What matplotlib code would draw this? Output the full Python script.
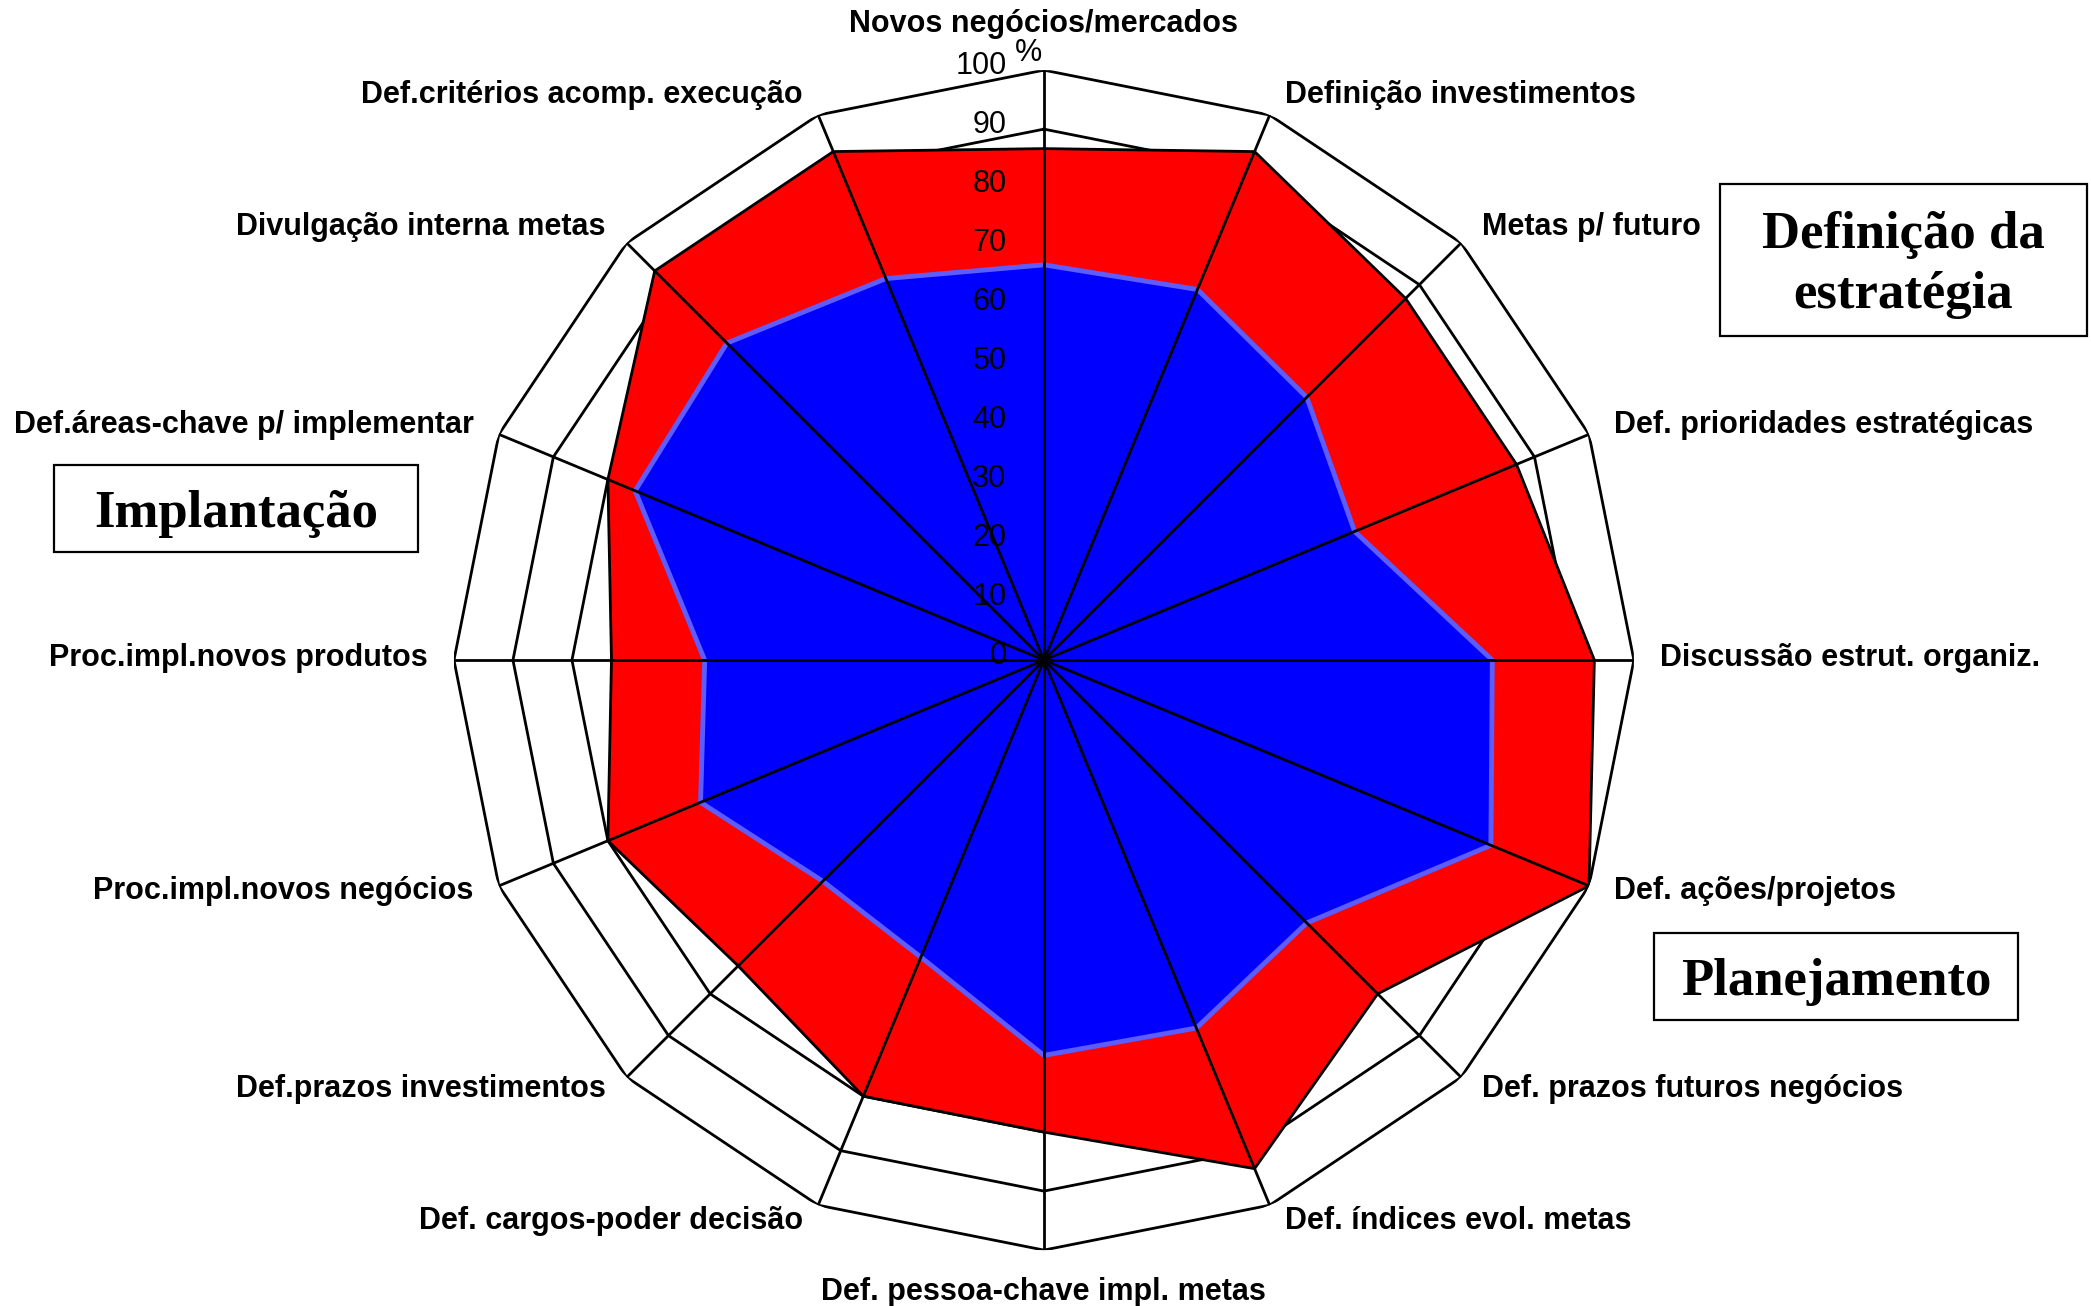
import numpy as np
import matplotlib.pyplot as plt
from matplotlib.patches import Rectangle

plt.rcParams['font.family'] = ['Liberation Sans', 'DejaVu Sans']

# data (percent)
categories = [
    "Novos negócios/mercados",
    "Definição investimentos",
    "Metas p/ futuro",
    "Def. prioridades estratégicas",
    "Discussão estrut. organiz.",
    "Def. ações/projetos",
    "Def. prazos futuros negócios",
    "Def. índices evol. metas",
    "Def. pessoa-chave impl. metas",
    "Def. cargos-poder decisão",
    "Def.prazos investimentos",
    "Proc.impl.novos negócios",
    "Proc.impl.novos produtos",
    "Def.áreas-chave p/ implementar",
    "Divulgação interna metas",
    "Def.critérios acomp. execução",
]
red_values = [86.7, 93.3, 86.7, 86.7, 93.3, 100, 80, 93.3,
              80, 80, 73.3, 80, 73.3, 80, 93.3, 93.3]
blue_values = [67, 68, 63, 57, 76, 82, 63, 67.5,
               67, 54.5, 53, 63, 57.5, 75, 76, 70]
r_ticks = [0, 10, 20, 30, 40, 50, 60, 70, 80, 90, 100]
group_labels = ["Definição da\nestratégia", "Implantação", "Planejamento"]

n = len(categories)
theta = np.linspace(0, 2 * np.pi, n, endpoint=False)
closed = np.append(theta, theta[0])


def close(vals):
    return np.append(vals, vals[0])


fig = plt.figure(figsize=(20.91, 13.06), dpi=100)
ax = fig.add_axes([0.2171, 0.0428, 0.5643, 0.9035], projection='polar')
ax.set_theta_zero_location('N')
ax.set_theta_direction(-1)
ax.set_ylim(0, 100)
ax.set_axis_off()

lw = 2.0
for level in r_ticks[1:]:
    ax.plot(closed, [level] * (n + 1), color='black', lw=lw, zorder=1)

ax.fill(closed, close(red_values), facecolor='#ff0000', edgecolor='black',
        lw=lw, zorder=2)
ax.fill(closed, close(blue_values), facecolor='#0000ff', edgecolor='#5c5cff',
        lw=3.5, zorder=3)

for t in theta:
    ax.plot([t, t], [0, 100], color='black', lw=lw, zorder=4)

# radial scale labels
for v in r_ticks:
    ax.annotate(str(v), xy=(0, v), xytext=(-27, 3), textcoords='offset points',
                ha='right', va='center', fontsize=22, zorder=5,
                annotation_clip=False)
ax.annotate("%", xy=(0, 100), xytext=(-11, 12), textcoords='offset points',
            ha='center', va='center', fontsize=22, annotation_clip=False)

# category labels
for t, lab in zip(theta, categories):
    deg = np.degrees(t)
    if np.isclose(deg, 0):
        ha, off = 'center', (0, 33)
    elif np.isclose(deg, 180):
        ha, off = 'center', (0, -30)
    else:
        side = 1 if deg < 180 else -1
        ha = 'left' if side > 0 else 'right'
        off = (side * (6 + 13 * abs(np.sin(t))), 14 * np.cos(t) + 1.5)
    ax.annotate(lab, xy=(t, 100), xytext=off, textcoords='offset points',
                ha=ha, va='center', fontsize=22, fontweight='bold',
                annotation_clip=False)

# group boxes (pixel layout of the original)
W, H = 2091, 1306
box_px = [(1720, 184, 2087, 336), (54, 465, 418, 552), (1654, 933, 2018, 1020)]
for text, (x0, y0, x1, y1) in zip(group_labels, box_px):
    fig.patches.append(Rectangle((x0 / W, 1 - y1 / H), (x1 - x0) / W,
                                 (y1 - y0) / H, transform=fig.transFigure,
                                 facecolor='white', edgecolor='black', lw=1.6))
    fig.text((x0 + x1) / 2 / W, 1 - ((y0 + y1) / 2 + 5) / H, text,
             ha='center', va='center', ma='center', fontsize=38,
             fontweight='bold', family='Liberation Serif', linespacing=1.3)

fig.savefig('out.png', dpi=100)
